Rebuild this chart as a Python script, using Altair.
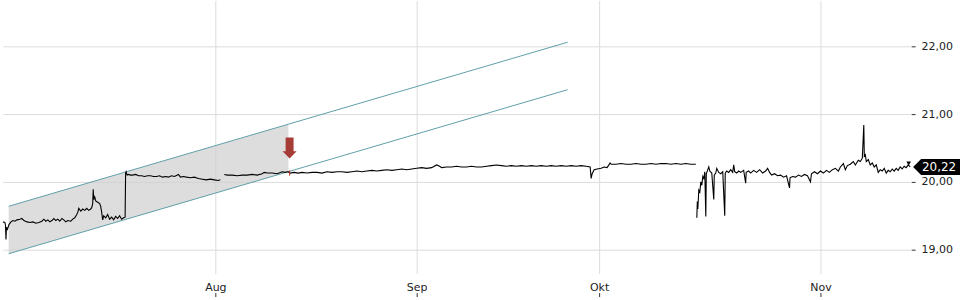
import altair as alt
import pandas as pd

# ---------------- data (x = trading-session index, y = price in EUR) -------------
seg_a_x = [0.0, 0.2, 0.25, 0.3, 0.35, 0.45, 0.6, 0.8, 1.0, 1.2, 1.4, 1.7, 1.9, 2.1, 2.4, 2.7,
           3.0, 3.3, 3.6, 3.9, 4.1, 4.3, 4.5, 4.7, 4.9, 5.1, 5.3, 5.5, 5.7, 5.9, 6.1, 6.3,
           6.5, 6.8, 7.0, 7.2, 7.4, 7.5, 7.6, 7.8, 8.0, 8.2, 8.4, 8.6, 8.8, 8.9, 9.0, 9.05,
           9.1, 9.2, 9.3, 9.5, 9.7, 9.8, 9.9, 10.0, 10.1, 10.3, 10.5, 10.7, 10.9, 11.1, 11.3,
           11.5, 11.7, 11.9, 12.1, 12.25, 12.3, 12.35, 12.45, 12.6, 12.8, 13.0, 13.3, 13.6,
           13.9, 14.2, 14.5, 14.8, 15.1, 15.4, 15.7, 16.0, 16.3, 16.6, 16.9, 17.2, 17.6, 17.8,
           18.1, 18.4, 18.8, 19.2, 19.6, 20.0, 20.4, 20.8, 21.2, 21.6, 21.8]
seg_a_y = [19.41, 19.40, 19.36, 19.15, 19.33, 19.30, 19.37, 19.41, 19.43, 19.42, 19.44, 19.45,
           19.46, 19.43, 19.41, 19.40, 19.41, 19.39, 19.40, 19.42, 19.45, 19.42, 19.44, 19.41,
           19.43, 19.46, 19.43, 19.45, 19.42, 19.46, 19.44, 19.41, 19.43, 19.42, 19.45, 19.47,
           19.52, 19.55, 19.61, 19.57, 19.60, 19.58, 19.61, 19.58, 19.60, 19.62, 19.68, 19.89,
           19.74, 19.78, 19.72, 19.70, 19.68, 19.64, 19.55, 19.44, 19.50, 19.47, 19.52, 19.45,
           19.48, 19.44, 19.49, 19.46, 19.50, 19.45, 19.47, 19.48, 20.13, 20.15, 20.10, 20.11,
           20.10, 20.10, 20.11, 20.09, 20.09, 20.08, 20.09, 20.09, 20.08, 20.08, 20.09, 20.07,
           20.08, 20.07, 20.09, 20.08, 20.11, 20.07, 20.08, 20.07, 20.06, 20.07, 20.05, 20.04,
           20.03, 20.04, 20.03, 20.02, 20.03]

seg_b_x = [22.2, 22.5, 23.0, 23.5, 24.0, 24.5, 25.0, 25.5, 26.0, 26.2, 26.5, 27.0, 27.5, 28.0,
           28.3, 28.6, 28.8, 29.2, 29.6, 30.0, 30.5, 31.0, 31.5, 32.0, 32.5, 33.0, 33.5, 34.0,
           34.5, 35.0, 35.5, 36.0, 36.5, 37.0, 37.5, 38.0, 38.5, 39.0, 39.5, 40.0, 40.5, 41.0,
           41.5, 42.0, 42.5, 43.0, 43.5, 43.8, 44.0, 44.5, 45.0, 45.5, 46.0, 46.5, 47.0, 47.5,
           48.0, 48.5, 49.0, 49.5, 50.0, 50.5, 51.0, 51.5, 52.0, 52.5, 53.0, 53.5, 54.0, 54.5,
           55.0, 55.5, 56.0, 56.5, 57.0, 57.5, 58.0, 58.5, 58.9, 59.0, 59.1, 59.3, 59.6, 60.0,
           60.3, 60.6, 60.9, 61.0, 61.5, 62.0, 62.5, 63.0, 63.5, 64.0, 64.5, 65.0, 65.5, 66.0,
           66.5, 67.0, 67.5, 68.0, 68.5, 69.0, 69.5]
seg_b_y = [20.11, 20.10, 20.10, 20.09, 20.10, 20.10, 20.11, 20.10, 20.12, 20.14, 20.13, 20.13,
           20.12, 20.15, 20.14, 20.15, 20.13, 20.14, 20.13, 20.14, 20.13, 20.14, 20.14, 20.13,
           20.15, 20.14, 20.15, 20.15, 20.14, 20.15, 20.16, 20.15, 20.16, 20.17, 20.16, 20.17,
           20.18, 20.17, 20.18, 20.19, 20.18, 20.19, 20.20, 20.21, 20.20, 20.21, 20.25, 20.23,
           20.21, 20.22, 20.22, 20.23, 20.22, 20.22, 20.23, 20.22, 20.22, 20.23, 20.24, 20.25,
           20.24, 20.23, 20.24, 20.23, 20.24, 20.23, 20.24, 20.23, 20.24, 20.23, 20.24, 20.23,
           20.24, 20.23, 20.24, 20.23, 20.24, 20.23, 20.22, 20.05, 20.12, 20.18, 20.19, 20.20,
           20.22, 20.21, 20.28, 20.26, 20.26, 20.27, 20.26, 20.26, 20.27, 20.26, 20.26, 20.27,
           20.26, 20.27, 20.27, 20.26, 20.27, 20.26, 20.27, 20.26, 20.26]

seg_c_x = [69.6, 69.65, 69.7, 69.8, 69.9, 70.0, 70.1, 70.2, 70.3, 70.4, 70.5, 70.55, 70.7, 70.8,
           70.9, 71.1, 71.3, 71.35, 71.5, 71.6, 71.8, 72.0, 72.2, 72.4, 72.45, 72.6, 72.8, 73.0,
           73.2, 73.3, 73.4, 73.6, 73.8, 74.0, 74.3, 74.5, 74.55, 74.8, 75.0, 75.3, 75.6, 75.9,
           76.2, 76.5, 76.7, 76.9, 77.1, 77.4, 77.7, 78.0, 78.3, 78.6, 78.9, 78.95, 79.2, 79.5,
           79.8, 80.1, 80.4, 80.7, 81.0, 81.1, 81.4, 81.7, 82.0, 82.3, 82.6, 82.9, 83.2, 83.5,
           83.8, 84.0, 84.3, 84.5, 84.7, 85.0, 85.3, 85.5, 85.8, 86.0, 86.2, 86.35, 86.4, 86.5,
           86.6, 86.8, 87.0, 87.2, 87.4, 87.6, 87.8, 88.0, 88.2, 88.4, 88.6, 88.8, 89.0, 89.2,
           89.4, 89.6, 89.8, 90.0, 90.2, 90.4, 90.6, 90.8, 91.0]
seg_c_y = [19.47, 19.71, 19.60, 19.88, 19.85, 20.00, 19.95, 20.08, 20.05, 20.15, 19.49, 20.12,
           20.18, 20.22, 20.16, 20.13, 19.74, 20.10, 20.13, 20.20, 20.14, 20.12, 20.15, 19.50,
           20.13, 20.16, 20.14, 20.18, 20.14, 20.25, 20.15, 20.13, 20.16, 20.14, 20.17, 19.98,
           20.14, 20.16, 20.13, 20.17, 20.14, 20.18, 20.13, 20.16, 20.20, 20.14, 20.10, 20.12,
           20.09, 20.10, 20.07, 20.09, 19.91, 20.06, 20.08, 20.07, 20.10, 20.08, 20.11, 20.09,
           20.00, 20.12, 20.15, 20.12, 20.16, 20.13, 20.17, 20.14, 20.18, 20.20, 20.16, 20.22,
           20.27, 20.18, 20.24, 20.26, 20.30, 20.25, 20.32, 20.30, 20.35, 20.84, 20.38, 20.40,
           20.30, 20.33, 20.25, 20.28, 20.22, 20.25, 20.14, 20.18, 20.16, 20.20, 20.13, 20.17,
           20.15, 20.19, 20.16, 20.20, 20.17, 20.22, 20.19, 20.23, 20.21, 20.25, 20.22]

month_names = ["Aug", "Sep", "Okt", "Nov"]
month_pos = [21.3, 41.5, 59.8, 82.0]
price_ticks = [19, 20, 21, 22]

channel_start = [0.57, 0.57]
channel_end = [56.64, 56.64]
channel_y_start = [19.64, 18.94]
channel_y_end = [22.06, 21.36]

shade_x = [0.57, 28.63]
shade_upper = [19.64, 20.85]
shade_lower = [18.94, 20.15]

signal_x = [28.75]
signal_y = [20.50]
signal_tick_low = [20.09]
signal_tick_high = [20.17]

last_x = [90.85]
last_marker_y = [20.27]
last_value = [20.22]
last_label = ["20,22"]

# ---------------- tables ----------------
price_df = pd.DataFrame({
    "s": seg_a_x + seg_b_x + seg_c_x,
    "p": seg_a_y + seg_b_y + seg_c_y,
    "seg": ["a"] * len(seg_a_x) + ["b"] * len(seg_b_x) + ["c"] * len(seg_c_x),
})
channel_df = pd.DataFrame({"x": channel_start, "x2": channel_end,
                           "y": channel_y_start, "y2": channel_y_end})
shade_df = pd.DataFrame({"x": shade_x, "hi": shade_upper, "lo": shade_lower})
signal_df = pd.DataFrame({"x": signal_x, "y": signal_y,
                          "lo": signal_tick_low, "hi": signal_tick_high})
last_df = pd.DataFrame({"x": last_x, "m": last_marker_y, "v": last_value, "t": last_label})
month_df = pd.DataFrame({"pos": month_pos, "name": month_names})

xs = alt.Scale(domain=[0, 91], nice=False, zero=False)
ys = alt.Scale(domain=[18.647, 22.676], nice=False, zero=False)

FONT = "DejaVu Sans"
GRID = "#dcdcdc"
TEAL = "#5fa0a8"
RED = "#a63c36"

label_expr = ("['" + "','".join(month_names) + "'][indexof(["
              + ",".join(str(v) for v in month_pos) + "], datum.value)]")

shade = alt.Chart(shade_df).mark_area(color="#cfcfcf", opacity=0.7).encode(
    x=alt.X("x:Q", scale=xs, axis=None),
    y=alt.Y("hi:Q", scale=ys, axis=None),
    y2="lo:Q",
)

channel = alt.Chart(channel_df).mark_rule(color=TEAL, strokeWidth=1).encode(
    x=alt.X("x:Q", scale=xs, axis=None),
    x2="x2:Q",
    y=alt.Y("y:Q", scale=ys, axis=None),
    y2="y2:Q",
)

price = alt.Chart(price_df).mark_line(color="black", strokeWidth=1.1).encode(
    x=alt.X("s:Q", scale=xs, title=None,
            axis=alt.Axis(values=month_pos, labelExpr=label_expr, ticks=False,
                          domain=False, grid=True, gridColor=GRID, labelPadding=8,
                          orient="bottom", labelFontSize=11, labelColor="#222",
                          labelFont=FONT)),
    y=alt.Y("p:Q", scale=ys, title=None,
            axis=alt.Axis(values=price_ticks, orient="right", domain=False,
                          grid=True, gridColor=GRID, tickSize=4, offset=1,
                          tickColor="#333", labelPadding=6, labelFontSize=11,
                          labelColor="#222", labelFont=FONT,
                          labelExpr="replace(format(datum.value, '.2f'), '.', ',')")),
    detail="seg:N",
)

month_ticks = alt.Chart(month_df).mark_point(opacity=0).encode(
    x=alt.X("pos:Q", scale=xs, title=None,
            axis=alt.Axis(values=month_pos, labels=False, grid=False, domain=False,
                          ticks=True, tickSize=4, offset=19, orient="bottom",
                          tickColor="#333")),
)

arrow_path = "M-0.38,-1L0.38,-1L0.38,0.3L0.67,0.3L0,1L-0.67,0.3L-0.38,0.3Z"
arrow = alt.Chart(signal_df).mark_point(shape=arrow_path, size=441, filled=True,
                                        color=RED, opacity=1, strokeWidth=0).encode(
    x=alt.X("x:Q", scale=xs, axis=None),
    y=alt.Y("y:Q", scale=ys, axis=None),
)
signal_tick = alt.Chart(signal_df).mark_rule(color="#c0392b", strokeWidth=1).encode(
    x=alt.X("x:Q", scale=xs, axis=None),
    y=alt.Y("lo:Q", scale=ys, axis=None),
    y2="hi:Q",
)

end_marker = alt.Chart(last_df).mark_point(shape="triangle-down", size=22, filled=True,
                                           color="black", opacity=1).encode(
    x=alt.X("x:Q", scale=xs, axis=None),
    y=alt.Y("m:Q", scale=ys, axis=None),
)

box_path = "M-1,0L-0.66,-0.34L1,-0.34L1,0.34L-0.66,0.34Z"
box = alt.Chart(last_df).mark_point(shape=box_path, size=2209, filled=True,
                                    color="black", opacity=1, strokeWidth=0).encode(
    x=alt.value(936.5),
    y=alt.Y("v:Q", scale=ys, axis=None),
)
box_text = alt.Chart(last_df).mark_text(color="white", fontSize=12, font=FONT,
                                        align="center", baseline="middle").encode(
    x=alt.value(939),
    y=alt.Y("v:Q", scale=ys, axis=None),
    text="t:N",
)

chart = alt.layer(
    shade, channel, price, month_ticks, signal_tick, arrow, end_marker, box, box_text
).resolve_axis(x="independent", y="independent").properties(
    width=910, height=274, padding=0
).configure_view(strokeWidth=0).configure_axis(labelFont=FONT)

chart.save("out.html", embed_options={"renderer": "svg", "actions": False})
